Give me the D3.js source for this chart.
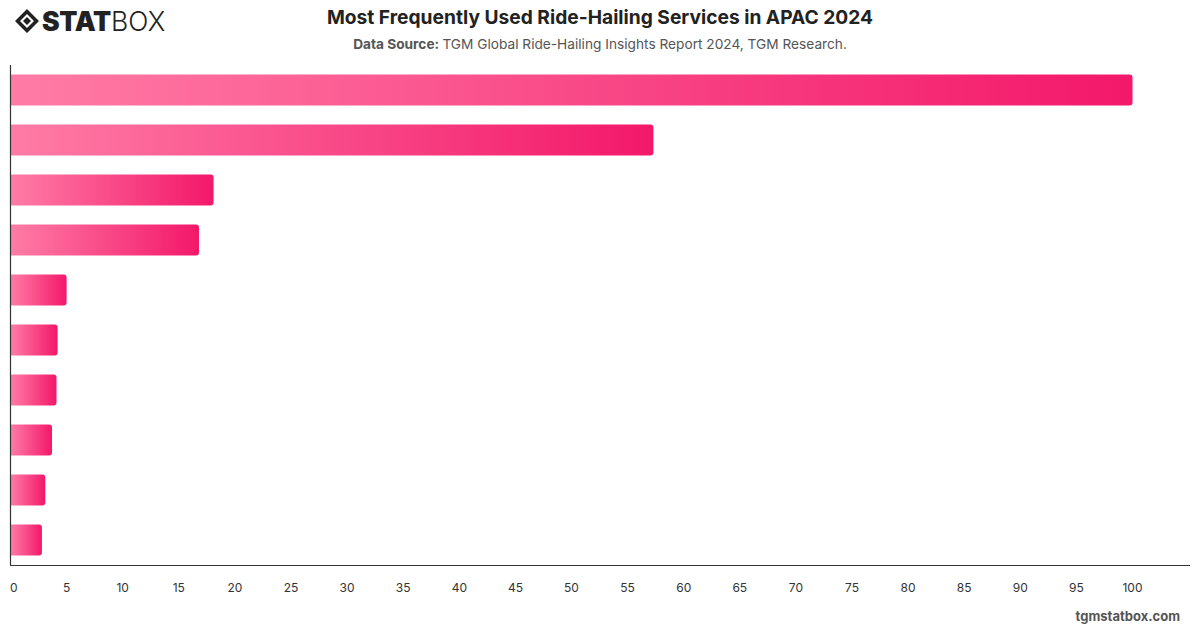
<!DOCTYPE html>
<html>
<head>
<meta charset="utf-8">
<script src="https://cdn.jsdelivr.net/npm/d3@7"></script>
<style>
  body { margin: 0; background: #fff; }
  svg { display: block; font-family: Inter, "Open Sans", sans-serif; }
</style>
</head>
<body>
<svg id="chart" width="1200" height="628"></svg>
<script>
// DATA
const services = ['Grab', 'Gojek', 'Uber', 'DiDi', 'Ola', 'Bolt', 'inDrive', 'Maxim', 'Be', 'GoTo'];
const usageShare = [100, 57.3, 18.1, 16.8, 5.0, 4.2, 4.1, 3.7, 3.1, 2.8];
const xTicks = d3.range(0, 101, 5);

// layout
const plotLeft = 10.5;
const plotRight = 1132.5;
const plotTop = 65;
const plotBottom = 565;
const axisRight = 1190;

const svg = d3.select('#chart');

const x = d3.scaleLinear().domain([0, 100]).range([plotLeft, plotRight]);
const y = d3.scaleBand().domain(services).range([plotTop, plotBottom])
	.paddingInner(0.38).paddingOuter(0.19);

// gradient for bars
const grad = svg.append('defs').append('linearGradient')
	.attr('id', 'barGrad')
	.attr('x1', '0%').attr('x2', '100%')
	.attr('y1', '0%').attr('y2', '0%');
grad.append('stop').attr('offset', '0%').attr('stop-color', '#ff7ca6');
grad.append('stop').attr('offset', '100%').attr('stop-color', '#f3186a');

// bar path with rounded right corners only
function barPath(x0, y0, w, h, r){
	r = Math.min(r, w / 2, h / 2);
	return 'M' + x0 + ',' + y0 +
		'H' + (x0 + w - r) +
		'Q' + (x0 + w) + ',' + y0 + ' ' + (x0 + w) + ',' + (y0 + r) +
		'V' + (y0 + h - r) +
		'Q' + (x0 + w) + ',' + (y0 + h) + ' ' + (x0 + w - r) + ',' + (y0 + h) +
		'H' + x0 + 'Z';
}

svg.append('g')
	.selectAll('path')
	.data(services)
	.join('path')
		.attr('d', (d, i) => barPath(x(0), y(d), x(usageShare[i]) - x(0), y.bandwidth(), 3))
		.attr('fill', 'url(#barGrad)');

// axes
svg.append('line')
	.attr('x1', plotLeft).attr('x2', plotLeft)
	.attr('y1', plotTop).attr('y2', plotBottom)
	.attr('stroke', '#333').attr('stroke-width', 1.2);

svg.append('line')
	.attr('x1', 10).attr('x2', axisRight)
	.attr('y1', plotBottom + 0.5).attr('y2', plotBottom + 0.5)
	.attr('stroke', '#333').attr('stroke-width', 1.2);

// tick labels centred on ticks; first one kept inside the chart
svg.append('g')
	.selectAll('text')
	.data(xTicks)
	.join('text')
		.attr('x', d => d === 0 ? x(d) - 0.5 : x(d))
		.attr('y', 592)
		.attr('text-anchor', d => d === 0 ? 'start' : 'middle')
		.attr('font-size', '12px')
		.attr('fill', '#333')
		.text(d => d);

// title + subtitle
svg.append('text')
	.attr('x', 600).attr('y', 24)
	.attr('text-anchor', 'middle')
	.attr('font-size', '19.2px')
	.attr('font-weight', 700)
	.attr('fill', '#222')
	.text('Most Frequently Used Ride-Hailing Services in APAC 2024');

const sub = svg.append('text')
	.attr('x', 600).attr('y', 49)
	.attr('text-anchor', 'middle')
	.attr('font-size', '13.7px')
	.attr('fill', '#555');
sub.append('tspan').attr('font-weight', 700).text('Data Source: ');
sub.append('tspan').text('TGM Global Ride-Hailing Insights Report 2024, TGM Research.');

// watermark
svg.append('text')
	.attr('x', 1180).attr('y', 621)
	.attr('text-anchor', 'end')
	.attr('font-size', '13px')
	.attr('font-weight', 700)
	.attr('fill', '#555')
	.text('tgmstatbox.com');

// logo
const logo = svg.append('g').attr('transform', 'translate(15,9)');
logo.append('path')
	.attr('d', 'M12,0 L24,12 L12,24 L0,12 Z M12,5 L5,12 L12,19 L19,12 Z')
	.attr('fill', '#222')
	.attr('fill-rule', 'evenodd');
logo.append('path')
	.attr('d', 'M12,8 L16,12 L12,16 L8,12 Z')
	.attr('fill', '#222');
const logoText = logo.append('text')
	.attr('x', 27).attr('y', 22)
	.attr('font-size', '26.5px')
	.attr('fill', '#222');
logoText.append('tspan').attr('font-weight', 900).attr('letter-spacing', '-0.3px').text('STAT');
logoText.append('tspan').attr('font-weight', 300).text('BOX');
</script>
</body>
</html>
